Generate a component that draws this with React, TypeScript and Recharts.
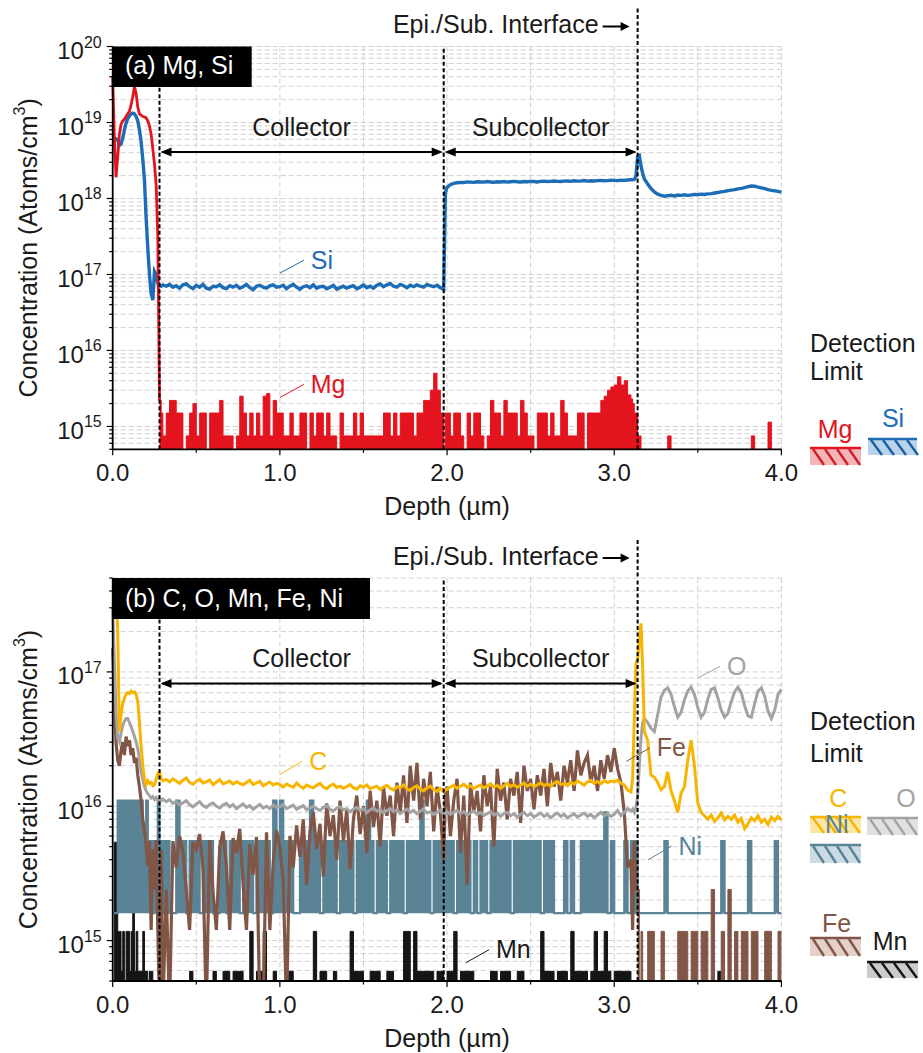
import React from 'react';
import {
  ComposedChart,
  Line,
  Area,
  XAxis,
  YAxis,
  CartesianGrid,
  ReferenceLine,
} from 'recharts';

// depth grid (µm) shared by both panels, finer near the surface and the interfaces
const depth = [
  0.0, 0.01, 0.02, 0.03, 0.04, 0.05, 0.06, 0.07, 0.08, 0.09,
  0.1, 0.11, 0.12, 0.13, 0.14, 0.15, 0.16, 0.17, 0.18, 0.19,
  0.2, 0.21, 0.22, 0.23, 0.24, 0.25, 0.26, 0.27, 0.28, 0.29,
  0.3,
  0.32, 0.34, 0.36, 0.38, 0.4, 0.42, 0.44, 0.46, 0.48, 0.5,
  0.52, 0.54, 0.56, 0.58, 0.6, 0.62, 0.64, 0.66, 0.68, 0.7,
  0.72, 0.74, 0.76, 0.78, 0.8, 0.82, 0.84, 0.86, 0.88, 0.9,
  0.92, 0.94, 0.96, 0.98,
  1.0, 1.02, 1.04, 1.06, 1.08, 1.1, 1.12, 1.14, 1.16, 1.18,
  1.2, 1.22, 1.24, 1.26, 1.28, 1.3, 1.32, 1.34, 1.36, 1.38,
  1.4, 1.42, 1.44, 1.46, 1.48, 1.5, 1.52, 1.54, 1.56, 1.58,
  1.6, 1.62, 1.64, 1.66, 1.68, 1.7, 1.72, 1.74, 1.76, 1.78,
  1.8, 1.82, 1.84, 1.86, 1.88, 1.9, 1.92, 1.94, 1.96,
  1.98, 1.99,
  2.0, 2.02, 2.04, 2.06, 2.08, 2.1, 2.12, 2.14, 2.16, 2.18,
  2.2, 2.22, 2.24, 2.26, 2.28, 2.3, 2.32, 2.34, 2.36, 2.38,
  2.4, 2.42, 2.44, 2.46, 2.48, 2.5, 2.52, 2.54, 2.56, 2.58,
  2.6, 2.62, 2.64, 2.66, 2.68, 2.7, 2.72, 2.74, 2.76, 2.78,
  2.8, 2.82, 2.84, 2.86, 2.88, 2.9, 2.92, 2.94, 2.96, 2.98,
  3.0, 3.02, 3.04, 3.06, 3.08, 3.1,
  3.11, 3.12, 3.13, 3.14, 3.15, 3.16, 3.17, 3.18,
  3.2, 3.22, 3.24, 3.26, 3.28, 3.3, 3.32, 3.34, 3.36, 3.38,
  3.4, 3.42, 3.44, 3.46, 3.48, 3.5, 3.52, 3.54, 3.56, 3.58,
  3.6, 3.62, 3.64, 3.66, 3.68, 3.7, 3.72, 3.74, 3.76, 3.78,
  3.8, 3.82, 3.84, 3.86, 3.88, 3.9, 3.92, 3.94, 3.96, 3.98,
  4.0,
];

// (a) Si, in 1e16 atoms/cm3
const si = [
  620, 620, 610, 580, 500, 520, 620, 800, 980, 1120,
  1220, 1290, 1330, 1300, 1200, 1050, 800, 560, 330, 175,
  55, 22, 10, 5.6, 4.6, 11, 10, 7.6, 7.2, 7.0,
  7.3,
  7.0, 7.4, 6.8, 7.1, 6.6, 7.3, 7.5, 6.9, 6.5, 7.2,
  6.8, 7.4, 6.6, 6.4, 7.0, 6.9, 7.3, 6.7, 6.5, 7.1,
  6.8, 7.2, 6.6, 6.9, 7.4, 6.7, 6.3, 7.0, 7.2, 6.8,
  6.6, 7.1, 7.3, 6.8,
  6.9, 7.2, 6.5, 7.0, 7.4, 6.8, 6.4, 6.9, 7.1, 6.7,
  7.3, 6.6, 6.9, 7.0, 6.5, 6.8, 7.2, 6.4, 6.7, 7.0,
  6.6, 6.9, 7.1, 6.5, 6.8, 7.3, 6.7, 7.0, 6.6, 7.2,
  7.5, 6.9, 7.3, 7.6, 7.0, 6.8, 7.4, 7.1, 6.7, 7.2,
  6.9, 7.3, 7.0, 6.8, 7.4, 7.1, 6.9, 7.2, 6.7,
  6.4, 120,
  140, 152, 158, 161, 163, 162, 165, 164, 163, 166,
  165, 164, 167, 165, 163, 166, 165, 167, 164, 166,
  168, 166, 165, 167, 166, 168, 167, 165, 168, 169,
  167, 168, 170, 168, 167, 169, 170, 168, 171, 169,
  170, 172, 169, 171, 170, 172, 173, 171, 172, 174,
  173, 172, 174, 173, 175, 176,
  176, 178, 195, 360, 370, 270, 215, 180,
  155, 135, 122, 114, 110, 107, 109, 110, 108, 111,
  110, 112, 110, 111, 113, 112, 114, 113, 115, 116,
  118, 120, 122, 124, 127, 129, 131, 134, 136, 139,
  143, 146, 145, 141, 138, 135, 131, 128, 126, 124,
  121,
];

// (a) Mg, in 1e15 atoms/cm3 (0.3 = no counts, below the axis)
const mg = [
  40000, 6000, 1900, 3500, 7000, 9500, 10500, 11000, 12000, 13000,
  14000, 17000, 22000, 30000, 24000, 16000, 13000, 12500, 12000, 11800,
  11500, 10500, 9000, 7000, 4500, 2800, 1500, 300, 2.2, 1.5,
  0.75,
  1.5, 2.2, 2.2, 1.5, 1.5, 0.3, 0.75, 1.5, 2.0, 0.75,
  1.5, 1.5, 0.3, 1.5, 1.5, 1.5, 2.2, 0.75, 0.75, 0.75,
  0.3, 0.75, 2.5, 1.5, 0.75, 1.5, 0.75, 1.5, 0.75, 2.5,
  2.7, 0.75, 2.2, 1.5,
  1.5, 0.75, 0.75, 1.5, 0.75, 0.75, 1.5, 1.5, 0.3, 1.5,
  0.75, 1.5, 1.5, 0.75, 1.5, 0.75, 0.75, 0.3, 1.5, 0.75,
  0.75, 0.75, 1.5, 0.75, 1.5, 0.75, 0.75, 0.75, 0.75, 0.75,
  0.75, 1.5, 1.5, 0.75, 1.5, 0.75, 1.5, 1.5, 1.5, 1.5,
  0.75, 1.5, 1.5, 2.2, 2.2, 3.0, 5.0, 3.0, 1.5,
  0.3, 1.5,
  1.5, 0.75, 1.5, 1.5, 0.75, 0.3, 1.5, 0.75, 1.5, 1.5,
  0.75, 0.3, 0.75, 2.2, 1.5, 1.5, 0.75, 2.2, 1.5, 1.5,
  1.5, 0.75, 2.2, 1.5, 0.75, 0.75, 0.3, 1.5, 1.5, 1.5,
  0.75, 1.5, 0.75, 0.75, 2.2, 1.5, 0.75, 0.75, 0.75, 1.5,
  1.5, 0.3, 1.5, 1.5, 1.5, 1.5, 2.2, 2.5, 3.0, 3.3,
  3.5, 4.5, 3.5, 4.0, 2.6, 2.3,
  2.0, 1.5, 1.5, 0.75, 0.75, 0.3, 0.3, 0.3,
  0.3, 0.3, 0.3, 0.3, 0.3, 0.3, 0.75, 0.3, 0.3, 0.3,
  0.3, 0.3, 0.3, 0.3, 0.3, 0.3, 0.3, 0.3, 0.3, 0.3,
  0.3, 0.3, 0.3, 0.3, 0.3, 0.3, 0.3, 0.3, 0.3, 0.3,
  0.3, 0.75, 0.3, 0.3, 0.3, 0.3, 1.14, 0.3, 0.3, 0.3,
  0.3,
];

// (b) all in 1e15 atoms/cm3
const carbon = [
  600, 500, 400, 200, 36, 48, 58, 64, 68, 70,
  69, 72, 70, 71, 68, 60, 42, 28, 20, 16,
  14.5, 15.5, 14.8, 15, 14.2, 14.5, 15.8, 17.5, 18, 16,
  15.5,
  15.8, 15.2, 16.0, 15.4, 14.8, 15.6, 16.2, 15.0, 14.6, 15.3,
  15.9, 14.9, 15.2, 15.7, 14.5, 15.1, 15.8, 14.7, 15.0, 15.4,
  14.6, 15.2, 14.8, 14.4, 15.0, 15.6, 14.5, 14.9, 15.3, 14.2,
  14.7, 15.1, 14.4, 14.8,
  14.5, 13.9, 14.6, 14.2, 13.8, 14.9, 14.1, 13.6, 14.4, 14.0,
  13.7, 14.3, 14.8, 13.9, 13.5, 14.2, 14.6, 13.8, 14.1, 13.6,
  14.0, 14.5, 13.7, 13.4, 14.2, 13.9, 14.4, 13.5, 13.8, 14.1,
  13.3, 13.9, 14.3, 13.6, 13.2, 14.0, 13.7, 14.4, 13.5, 13.1,
  13.8, 14.2, 13.4, 13.0, 13.7, 14.1, 13.3, 12.9, 13.6,
  12.8, 13.2,
  13.4, 13.9, 14.3, 13.6, 14.1, 14.6, 13.8, 14.2, 13.5, 14.0,
  14.4, 13.7, 14.1, 14.7, 13.9, 14.3, 13.6, 14.2, 14.8, 14.0,
  14.5, 13.8, 14.3, 14.9, 14.1, 14.6, 14.0, 14.4, 15.0, 14.2,
  14.7, 14.1, 14.9, 15.3, 14.5, 14.8, 14.2, 15.1, 14.6, 15.4,
  14.9, 14.3, 15.2, 15.6, 14.8, 15.3, 14.7, 15.5, 15.0, 15.4,
  15.2, 15.6, 14.9, 14.4, 13.2, 12.8,
  16, 45, 115, 125, 170, 230, 110, 36,
  31, 17, 16.5, 15, 13.3, 14, 18, 13, 11, 9,
  12.5, 14, 22, 31, 20, 10.5, 9, 8.5, 8, 8.6,
  7.7, 8.2, 8.9, 7.9, 8.4, 8.0, 8.6, 7.6, 8.1, 6.8,
  7.4, 8.2, 7.8, 8.5, 7.6, 8.0, 7.3, 8.3, 7.8, 8.4,
  7.9,
];

const oxygen = [
  300, 120, 50, 32, 30, 35, 40, 43, 45, 45,
  42, 39, 36, 33, 30, 27, 22, 18, 15.8, 14,
  13, 12.4, 12, 11.5, 11.8, 11.2, 11.6, 11.0, 11.4, 11.0,
  11.3,
  10.8, 11.2, 10.5, 10.9, 10.2, 10.6, 11.0, 10.3, 9.9, 10.4,
  10.8, 10.1, 9.8, 10.3, 10.6, 10.0, 9.7, 10.2, 10.5, 9.9,
  10.3, 9.6, 10.0, 10.4, 9.8, 10.1, 9.5, 9.9, 10.3, 9.7,
  10.0, 9.6, 10.2, 9.8,
  9.9, 10.3, 9.6, 9.9, 10.2, 9.5, 9.8, 10.1, 9.4, 9.7,
  10.0, 9.6, 9.3, 9.8, 10.1, 9.5, 9.2, 9.7, 9.9, 9.4,
  9.6, 9.1, 9.5, 9.8, 9.3, 9.6, 9.0, 9.4, 9.7, 9.2,
  9.5, 8.9, 9.3, 9.6, 9.1, 9.4, 8.8, 9.2, 9.5, 9.0,
  9.3, 8.8, 9.2, 9.5, 8.9, 9.1, 8.7, 9.0, 9.3,
  8.6, 8.9,
  9.1, 8.7, 9.0, 9.3, 8.8, 9.1, 8.6, 8.9, 9.2, 8.7,
  9.0, 8.5, 8.8, 9.1, 8.6, 8.9, 8.4, 8.8, 9.0, 8.5,
  8.8, 8.3, 8.7, 9.0, 8.5, 8.8, 8.3, 8.6, 8.9, 8.4,
  8.7, 8.2, 8.6, 8.9, 8.4, 8.7, 8.2, 8.5, 8.8, 8.3,
  8.6, 8.9, 8.4, 8.7, 8.2, 8.6, 9.0, 8.5, 8.8, 8.4,
  8.7, 9.3, 8.5, 9.0, 9.6, 9.2,
  9.5, 9.0, 9.8, 12, 20, 32, 42, 45,
  42, 38, 36, 48, 65, 73, 76, 68, 55, 46,
  50, 62, 72, 77, 68, 54, 46, 50, 63, 74,
  76, 64, 52, 46, 49, 60, 71, 77, 70, 56,
  47, 46, 58, 72, 76, 66, 51, 45, 52, 68,
  74,
];

const iron = [
  150, 60, 30, 22, 20, 26, 30, 24, 33, 28,
  31, 24, 27, 21, 23, 17, 14, 11, 8, 6.5,
  5, 3.6, 5.5, 1.2, 4.8, 2.4, 5.6, 1.2, 0.3, 4.7,
  0.3,
  2.4, 0.3, 5.5, 3.5, 6.0, 4.6, 2.4, 1.2, 5.4, 4.8,
  6.2, 3.4, 0.3, 5.6, 2.3, 1.2, 4.9, 6.5, 3.6, 1.2,
  5.8, 4.5, 6.8, 2.6, 1.2, 5.2, 3.1, 5.9, 0.3, 0.3,
  6.4, 1.2, 3.8, 6.6,
  5.0, 2.8, 0.3, 6.0, 3.5, 7.2, 4.2, 8.0, 2.6, 6.5,
  9.0, 4.8, 7.4, 3.0, 10.5, 6.0, 8.6, 4.0, 11, 5.5,
  9.5, 3.4, 8.0, 12, 6.2, 10, 4.5, 13, 7.0, 11,
  5.0, 14, 8.5, 12, 6.0, 15, 9.0, 17, 7.5, 20,
  11, 21, 8.0, 16, 10, 18, 6.5, 14, 9.0,
  4.0, 12,
  14, 6.0, 11, 16, 4.5, 12, 2.6, 15, 9.0, 13,
  6.5, 17, 10, 14, 5.0, 19, 11, 15, 8.0, 16,
  12, 18, 7.5, 20, 13, 16, 9.5, 17, 12, 19,
  10, 21, 14, 18, 11, 20, 15, 22, 13, 26,
  17, 21, 24, 15, 20, 13, 22, 16, 24, 18,
  27, 19, 15, 9, 3.5, 4,
  1.2, 5.5, 2.4, 2.4, 0.3, 1.17, 0.3, 0.3,
  1.17, 1.17, 0.3, 0.3, 1.17, 0.3, 0.3, 0.3, 0.3, 1.17,
  1.17, 1.17, 0.3, 1.17, 1.17, 0.3, 1.17, 1.17, 0.3, 2.4,
  0.3, 0.3, 1.17, 0.3, 2.4, 0.3, 1.17, 0.3, 1.17, 1.17,
  0.3, 1.17, 1.17, 0.3, 0.3, 1.17, 1.17, 0.3, 0.3, 1.17,
  1.17,
];

const nickel = [
  1.6, 1.6, 1.6, 11, 5.5, 11, 11, 5.5, 11, 11,
  5.5, 11, 11, 11, 5.5, 11, 5.5, 11, 5.5, 5.5,
  11, 5.5, 5.5, 5.5, 1.6, 5.5, 5.5, 11, 5.5, 1.6,
  5.5,
  5.5, 1.6, 1.6, 11, 5.5, 5.5, 1.6, 5.5, 5.5, 5.5,
  1.6, 5.5, 5.5, 5.5, 1.6, 1.6, 5.5, 5.5, 1.6, 5.5,
  5.5, 5.5, 1.6, 5.5, 5.5, 5.5, 1.6, 5.5, 5.5, 5.5,
  5.5, 1.6, 11, 5.5,
  11, 5.5, 5.5, 5.5, 1.6, 1.6, 5.5, 5.5, 5.5, 11,
  5.5, 5.5, 1.6, 5.5, 5.5, 5.5, 5.5, 1.6, 5.5, 5.5,
  5.5, 5.5, 1.6, 5.5, 5.5, 5.5, 11, 5.5, 1.6, 5.5,
  5.5, 5.5, 1.6, 5.5, 5.5, 5.5, 5.5, 1.6, 5.5, 5.5,
  5.5, 5.5, 11, 5.5, 5.5, 1.6, 5.5, 5.5, 5.5,
  5.5, 5.5,
  5.5, 5.5, 1.6, 5.5, 5.5, 5.5, 5.5, 1.6, 5.5, 1.6,
  5.5, 5.5, 1.6, 5.5, 5.5, 5.5, 5.5, 5.5, 5.5, 1.6,
  5.5, 5.5, 5.5, 5.5, 5.5, 5.5, 5.5, 5.5, 1.6, 5.5,
  5.5, 5.5, 1.6, 1.6, 1.6, 5.5, 1.6, 5.5, 1.6, 1.6,
  5.5, 5.5, 5.5, 5.5, 5.5, 5.5, 5.5, 9, 1.6, 5.5,
  1.6, 1.6, 1.6, 5.5, 1.6, 5.5,
  5.5, 1.6, 5.5, 1.6, 1.6, 1.6, 1.6, 1.6,
  1.6, 1.6, 1.6, 1.6, 1.6, 5.5, 1.6, 1.6, 1.6, 1.6,
  1.6, 1.6, 1.6, 1.6, 1.6, 1.6, 1.6, 1.6, 1.6, 1.6,
  1.6, 1.6, 5.5, 1.6, 1.6, 1.6, 1.6, 1.6, 1.6, 1.6,
  5.5, 1.6, 1.6, 1.6, 1.6, 1.6, 1.6, 1.6, 5.5, 1.6,
  1.6,
];

const manganese = [
  0.3, 5.4, 5.4, 1.17, 1.17, 0.59, 1.17, 0.3, 1.17, 1.17,
  0.59, 1.17, 1.6, 0.59, 1.17, 0.59, 0.59, 0.59, 1.17, 0.59,
  0.59, 0.3, 0.59, 0.59, 0.3, 0.3, 0.3, 0.3, 0.3, 0.3,
  0.3,
  0.3, 0.3, 0.3, 0.3, 0.3, 0.3, 0.3, 0.59, 0.3, 0.3,
  0.3, 0.3, 0.3, 0.3, 0.59, 0.3, 0.3, 0.59, 0.59, 0.3,
  0.59, 0.59, 0.59, 0.3, 0.3, 1.17, 0.3, 0.59, 0.59, 1.17,
  0.3, 0.3, 0.59, 0.3,
  0.3, 0.3, 0.59, 0.59, 0.3, 0.3, 0.3, 0.3, 0.3, 0.3,
  1.17, 0.3, 0.59, 0.59, 0.3, 0.3, 0.59, 0.3, 0.3, 0.3,
  0.3, 1.17, 0.59, 0.59, 0.59, 0.3, 0.3, 0.59, 0.59, 0.59,
  0.3, 0.3, 0.59, 0.59, 0.3, 0.3, 0.3, 1.17, 1.17, 0.3,
  1.17, 0.59, 0.59, 0.59, 0.59, 0.59, 0.3, 0.59, 0.59,
  0.3, 0.3,
  0.59, 0.59, 1.17, 0.3, 0.59, 0.59, 0.59, 0.59, 0.3, 0.3,
  0.3, 0.3, 0.3, 0.59, 0.59, 0.3, 0.59, 0.59, 0.59, 0.3,
  0.3, 0.59, 0.59, 0.3, 0.3, 0.3, 0.3, 0.3, 1.17, 0.59,
  0.59, 0.59, 0.3, 0.59, 0.59, 0.59, 0.3, 1.17, 0.59, 0.59,
  0.59, 0.59, 0.3, 0.59, 1.17, 0.59, 0.59, 1.17, 0.59, 0.3,
  0.59, 0.59, 0.59, 0.59, 0.59, 0.3,
  0.3, 0.3, 0.3, 0.3, 0.3, 0.3, 0.3, 0.3,
  0.3, 0.3, 0.3, 0.3, 0.3, 0.3, 0.3, 0.3, 0.3, 0.3,
  0.3, 0.3, 0.3, 0.3, 0.3, 0.3, 0.3, 0.3, 0.3, 0.3,
  0.3, 0.59, 0.3, 0.3, 0.3, 0.3, 0.3, 0.3, 0.3, 0.3,
  0.3, 0.3, 0.3, 0.3, 0.3, 0.3, 0.3, 0.3, 0.3, 0.3,
  0.3,
];

const depthTicks = [0, 0.5, 1, 1.5, 2, 2.5, 3, 3.5, 4];
const concTicksA = [
  5e14, 6e14, 7e14, 8e14, 9e14,
  1e15, 2e15, 3e15, 4e15, 5e15, 6e15, 7e15, 8e15, 9e15,
  1e16, 2e16, 3e16, 4e16, 5e16, 6e16, 7e16, 8e16, 9e16,
  1e17, 2e17, 3e17, 4e17, 5e17, 6e17, 7e17, 8e17, 9e17,
  1e18, 2e18, 3e18, 4e18, 5e18, 6e18, 7e18, 8e18, 9e18,
  1e19, 2e19, 3e19, 4e19, 5e19, 6e19, 7e19, 8e19, 9e19,
  1e20,
];
const concTicksB = [
  5e14, 6e14, 7e14, 8e14, 9e14,
  1e15, 2e15, 3e15, 4e15, 5e15, 6e15, 7e15, 8e15, 9e15,
  1e16, 2e16, 3e16, 4e16, 5e16, 6e16, 7e16, 8e16, 9e16,
  1e17, 2e17, 3e17, 4e17, 5e17,
];

// layer boundaries (µm) and Ni counting floor
const COLLECTOR_START = 0.28;
const SUBCOLLECTOR_START = 1.98;
const INTERFACE = 3.14;
const NI_FLOOR = 1.6e15;

const rowsA = depth.map((d, i) => ({
  d,
  si: si[i] * 1e16,
  mgSurf: d <= COLLECTOR_START ? mg[i] * 1e15 : null,
  mgBulk: d >= COLLECTOR_START ? mg[i] * 1e15 : null,
}));

const rowsB = depth.map((d, i) => ({
  d,
  c: carbon[i] * 1e15,
  o: oxygen[i] * 1e15,
  ni: nickel[i] * 1e15,
  mn: manganese[i] * 1e15,
  feEpi: d <= INTERFACE ? iron[i] * 1e15 : null,
  feSub: d >= INTERFACE ? iron[i] * 1e15 : null,
}));

const FONT = '"Liberation Sans", Arial, Helvetica, sans-serif';
const INK = '#1a1a1a';
const COL = {
  si: '#1c6db6',
  mg: '#e3141e',
  c: '#f7b500',
  o: '#a3a3a3',
  fe: '#825646',
  ni: '#5a8496',
  mn: '#151515',
};
const AXIS = { stroke: '#000', strokeWidth: 1.8 };

const LogTick = (props: any) => {
  const { x, y, payload } = props;
  const lg = Math.log10(payload.value);
  const exp = Math.round(lg);
  const major = Math.abs(lg - exp) < 1e-6;
  return (
    <g>
      <line x1={x - (major ? 6 : 3.5)} x2={x} y1={y} y2={y} stroke="#000" strokeWidth={1.2} />
      {major && (
        <text x={x - 11} y={y + 12.5} textAnchor="end" fontSize={24} fill={INK} fontFamily={FONT}>
          10
          <tspan dy={-11.5} fontSize={16}>
            {exp}
          </tspan>
        </text>
      )}
    </g>
  );
};

const DepthTick = (props: any) => {
  const { x, y, payload } = props;
  const major = Number.isInteger(payload.value);
  return (
    <g>
      <line x1={x} x2={x} y1={y} y2={y + (major ? 6 : 3.5)} stroke="#000" strokeWidth={1.2} />
      {major && (
        <text x={x} y={y + 32} textAnchor="middle" fontSize={24} fill={INK} fontFamily={FONT}>
          {payload.value.toFixed(1)}
        </text>
      )}
    </g>
  );
};

const depthTitle = (props: any) => {
  const { x, y, width } = props.viewBox;
  return (
    <text x={x + width / 2} y={y + 65.7} textAnchor="middle" fontSize={25} fill={INK} fontFamily={FONT}>
      Depth (µm)
    </text>
  );
};

const concTitle = (props: any) => {
  const { x, y, height } = props.viewBox;
  const cx = x + 15.5;
  const cy = y + height / 2;
  return (
    <text
      x={cx}
      y={cy}
      transform={`rotate(-90, ${cx}, ${cy})`}
      textAnchor="middle"
      dominantBaseline="central"
      fontSize={25}
      fill={INK}
      fontFamily={FONT}
    >
      Concentration (Atoms/cm
      <tspan dy={-9} fontSize={16}>
        3
      </tspan>
      <tspan dy={9}>)</tspan>
    </text>
  );
};

const interfaceTag = (props: any) => {
  const { x, y } = props.viewBox;
  const ay = y - 20;
  return (
    <g>
      <line x1={x} x2={x} y1={y - 38} y2={y} stroke="#000" strokeWidth={2} strokeDasharray="4 2.5" />
      <text x={x - 39} y={y - 13.5} textAnchor="end" fontSize={25} fill={INK} fontFamily={FONT}>
        Epi./Sub. Interface
      </text>
      <line x1={x - 35} x2={x - 14} y1={ay} y2={ay} stroke="#000" strokeWidth={2} />
      <polygon points={`${x - 8},${ay} ${x - 17},${ay - 4.5} ${x - 17},${ay + 4.5}`} fill="#000" />
    </g>
  );
};

const spanLabel = (text: string) => (props: any) => {
  const { x, y, width } = props.viewBox;
  return (
    <text x={x + width / 2} y={y - 16} textAnchor="middle" fontSize={25} fill={INK} fontFamily={FONT}>
      {text}
    </text>
  );
};

const tagLabel = (text: string, color: string) => (props: any) => {
  const { x, y, width } = props.viewBox;
  return (
    <text x={x + width + 7} y={y + 8.5} fontSize={25} fill={color} fontFamily={FONT}>
      {text}
    </text>
  );
};

const DoubleArrow = (props: any) => {
  const { x1, y1, x2, y2 } = props;
  const h = 11;
  const w = 4.5;
  return (
    <g>
      <line x1={x1 + 3} y1={y1} x2={x2 - 3} y2={y2} stroke="#000" strokeWidth={2} />
      <polygon points={`${x1 + 1},${y1} ${x1 + 1 + h},${y1 - w} ${x1 + 1 + h},${y1 + w}`} fill="#000" />
      <polygon points={`${x2 - 1},${y2} ${x2 - 1 - h},${y2 - w} ${x2 - 1 - h},${y2 + w}`} fill="#000" />
    </g>
  );
};

const boundaryLines = () => [
  <ReferenceLine key="b1" x={COLLECTOR_START} stroke="#000" strokeWidth={2} strokeDasharray="4 2.5" />,
  <ReferenceLine key="b2" x={SUBCOLLECTOR_START} stroke="#000" strokeWidth={2} strokeDasharray="4 2.5" />,
  <ReferenceLine
    key="b3"
    x={INTERFACE}
    stroke="#000"
    strokeWidth={2}
    strokeDasharray="4 2.5"
    label={{ content: interfaceTag }}
  />,
];

const layerArrows = (yArrow: number) => [
  <ReferenceLine
    key="a1"
    segment={[{ x: COLLECTOR_START, y: yArrow }, { x: SUBCOLLECTOR_START, y: yArrow }]}
    shape={DoubleArrow}
    label={{ content: spanLabel('Collector') }}
  />,
  <ReferenceLine
    key="a2"
    segment={[{ x: SUBCOLLECTOR_START, y: yArrow }, { x: INTERFACE, y: yArrow }]}
    shape={DoubleArrow}
    label={{ content: spanLabel('Subcollector') }}
  />,
];

const leader = (key: string, text: string, color: string, p: number[][]) => (
  <ReferenceLine
    key={key}
    segment={[{ x: p[0][0], y: p[0][1] }, { x: p[1][0], y: p[1][1] }]}
    stroke={color}
    strokeWidth={1}
    label={{ content: tagLabel(text, color) }}
  />
);

const Swatch = ({ x, y, w, h, line, fill, hatch }: any) => (
  <g>
    <rect x={x} y={y} width={w} height={h} fill={fill} />
    {[3, 15, 27, 39].map((o) => (
      <line key={o} x1={x + o} y1={y + 1} x2={x + o + 11} y2={y + h} stroke={hatch} strokeWidth={2.4} />
    ))}
    <line x1={x} x2={x + w} y1={y} y2={y} stroke={line} strokeWidth={2.6} />
  </g>
);

const T = ({ x, y, c = INK, anchor = 'start', children }: any) => (
  <text x={x} y={y} fill={c} textAnchor={anchor} fontSize={25} fontFamily={FONT}>
    {children}
  </text>
);

const Overlay = () => (
  <svg width={923} height={1053} style={{ position: 'absolute', left: 0, top: 0, pointerEvents: 'none' }}>
    <rect x={112.7} y={46.5} width={139} height={40.5} fill="#000" />
    <text x={125} y={74} fill="#fff" fontSize={25} fontFamily={FONT}>
      (a) Mg, Si
    </text>
    <rect x={112.7} y={578} width={257.3} height={41} fill="#000" />
    <text x={125} y={606.7} fill="#fff" fontSize={25} fontFamily={FONT}>
      (b) C, O, Mn, Fe, Ni
    </text>

    <T x={810} y={351.7}>Detection</T>
    <T x={810} y={380}>Limit</T>
    <T x={835} y={438.3} c={COL.mg} anchor="middle">Mg</T>
    <T x={893} y={426.7} c={COL.si} anchor="middle">Si</T>
    <Swatch x={810} y={448} w={51} h={17} line={COL.mg} fill="#f4b4b8" hatch="#d0202a" />
    <Swatch x={868} y={439} w={49} h={16} line={COL.si} fill="#b9d3ea" hatch="#1c5f9e" />

    <T x={810} y={730}>Detection</T>
    <T x={810} y={761.7}>Limit</T>
    <T x={838.3} y={806.7} c={COL.c} anchor="middle">C</T>
    <T x={906} y={806.7} c={COL.o} anchor="middle">O</T>
    <Swatch x={810} y={817} w={51} h={16} line={COL.c} fill="#fbe6a6" hatch={COL.c} />
    <T x={836.7} y={832.7} c={COL.ni} anchor="middle">Ni</T>
    <Swatch x={867} y={818} w={51} h={17} line={COL.o} fill="#e0e0e0" hatch={COL.o} />
    <Swatch x={810} y={845} w={51} h={18} line={COL.ni} fill="#cbdbe3" hatch={COL.ni} />
    <T x={836.7} y={931.7} c={COL.fe} anchor="middle">Fe</T>
    <Swatch x={810} y={938} w={51} h={18} line={COL.fe} fill="#e2d0c9" hatch={COL.fe} />
    <T x={890} y={950} c={INK} anchor="middle">Mn</T>
    <Swatch x={867} y={962} w={51} h={16} line={COL.mn} fill="#cccccc" hatch={COL.mn} />
  </svg>
);

const xAxes = [
  <XAxis
    key="xb"
    dataKey="d"
    type="number"
    domain={[0, 4]}
    ticks={depthTicks}
    interval={0}
    tick={<DepthTick />}
    tickSize={0}
    tickMargin={0}
    tickLine={false}
    height={50}
    axisLine={AXIS}
    label={{ content: depthTitle }}
  />,
  <XAxis
    key="xt"
    xAxisId="top"
    orientation="top"
    type="number"
    domain={[0, 4]}
    height={0}
    tick={false}
    tickLine={false}
    axisLine={AXIS}
  />,
];

const yAxes = (domain: number[], ticks: number[]) => [
  <YAxis
    key="yl"
    type="number"
    scale="log"
    domain={domain}
    ticks={ticks}
    interval={0}
    allowDataOverflow
    width={100}
    tick={<LogTick />}
    tickSize={0}
    tickMargin={0}
    tickLine={false}
    axisLine={AXIS}
    label={{ content: concTitle }}
  />,
  <YAxis
    key="yr"
    yAxisId="right"
    orientation="right"
    type="number"
    scale="log"
    domain={domain}
    allowDataOverflow
    width={0}
    tick={false}
    tickLine={false}
    axisLine={AXIS}
  />,
];

const GRID = { stroke: '#cfcfcf', strokeDasharray: '5 3', strokeWidth: 1 };

export default function App() {
  return (
    <div style={{ position: 'absolute', left: 0, top: 0, width: 923, height: 1053, background: '#fff', fontFamily: FONT }}>
      <div style={{ position: 'absolute', left: 0, top: 0 }}>
        <ComposedChart width={923} height={530} data={rowsA} margin={{ top: 46.5, right: 141.6, bottom: 30.7, left: 12.7 }}>
          <CartesianGrid {...GRID} />
          {xAxes}
          {yAxes([5e14, 1e20], concTicksA)}
          <Line dataKey="si" type="linear" stroke={COL.si} strokeWidth={3.4} dot={false} activeDot={false} isAnimationActive={false} />
          <Line dataKey="mgSurf" type="linear" stroke={COL.mg} strokeWidth={2.8} dot={false} activeDot={false} isAnimationActive={false} />
          <Area dataKey="mgBulk" type="stepAfter" baseValue="dataMin" stroke={COL.mg} strokeWidth={1} fill={COL.mg} fillOpacity={1} dot={false} activeDot={false} isAnimationActive={false} />
          {boundaryLines()}
          {layerArrows(4.1e18)}
          {leader('si', 'Si', COL.si, [[1.0, 1.04e17], [1.143, 1.54e17]])}
          {leader('mg', 'Mg', COL.mg, [[1.0, 2.4e15], [1.143, 3.57e15]])}
        </ComposedChart>
      </div>
      <div style={{ position: 'absolute', left: 0, top: 530 }}>
        <ComposedChart width={923} height={523} data={rowsB} margin={{ top: 48, right: 141.6, bottom: 22, left: 12.7 }}>
          <CartesianGrid {...GRID} />
          {xAxes}
          {yAxes([5e14, 5e17], concTicksB)}
          <Area dataKey="mn" type="stepAfter" baseValue="dataMin" stroke={COL.mn} strokeWidth={1} fill={COL.mn} fillOpacity={1} dot={false} activeDot={false} isAnimationActive={false} />
          <Area dataKey="ni" type="stepAfter" baseValue={NI_FLOOR} stroke={COL.ni} strokeWidth={2.2} fill={COL.ni} fillOpacity={1} dot={false} activeDot={false} isAnimationActive={false} />
          <Line dataKey="feEpi" type="linear" stroke={COL.fe} strokeWidth={3.2} dot={false} activeDot={false} isAnimationActive={false} />
          <Area dataKey="feSub" type="stepAfter" baseValue="dataMin" stroke={COL.fe} strokeWidth={1} fill={COL.fe} fillOpacity={1} dot={false} activeDot={false} isAnimationActive={false} />
          <Line dataKey="o" type="linear" stroke={COL.o} strokeWidth={3} dot={false} activeDot={false} isAnimationActive={false} />
          <Line dataKey="c" type="linear" stroke={COL.c} strokeWidth={3} dot={false} activeDot={false} isAnimationActive={false} />
          {boundaryLines()}
          {layerArrows(8.2e16)}
          {leader('c', 'C', COL.c, [[1.0, 1.72e16], [1.134, 2.16e16]])}
          {leader('o', 'O', COL.o, [[3.503, 9.06e16], [3.633, 1.1e17]])}
          {leader('fe', 'Fe', COL.fe, [[3.073, 2.16e16], [3.213, 2.72e16]])}
          {leader('ni', 'Ni', COL.ni, [[3.203, 4.0e15], [3.343, 5.04e15]])}
          {leader('mn', 'Mn', INK, [[2.113, 6.84e14], [2.251, 8.55e14]])}
        </ComposedChart>
      </div>
      <Overlay />
    </div>
  );
}
